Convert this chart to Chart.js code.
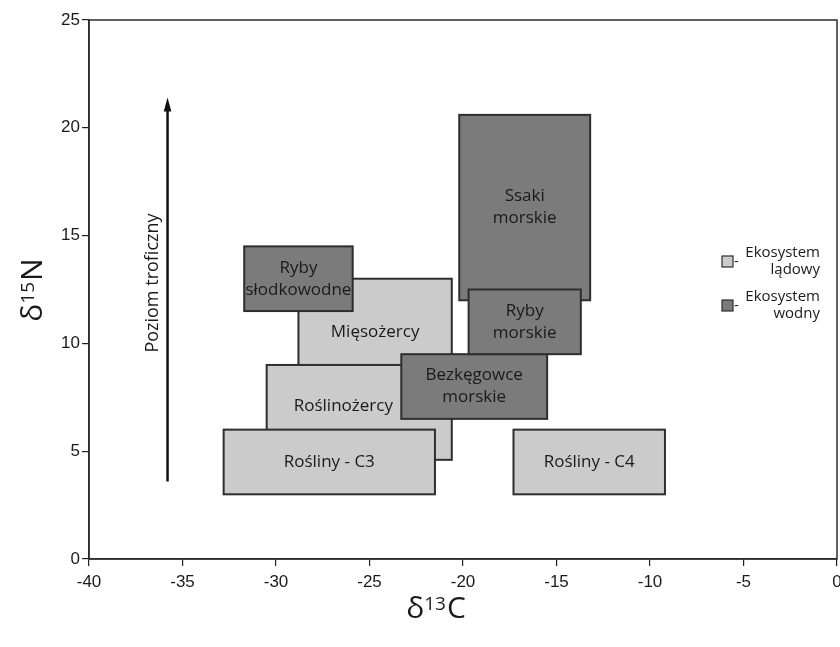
<!DOCTYPE html>
<html>
<head>
<meta charset="utf-8">
<script src="https://cdn.jsdelivr.net/npm/chart.js@4"></script>
<style>
  html, body { margin: 0; padding: 0; background: #fff; }
  #wrap { width: 840px; height: 647px; }
</style>
</head>
<body>
<div id="wrap"><canvas id="c" width="840" height="647"></canvas></div>
<script>
// zakresy grup (δ13C × δ15N), kolejność = kolejność rysowania
const groupLabels = [
  ['Mięsożercy'],
  ['Ryby', 'słodkowodne'],
  ['Roślinożercy'],
  ['Rośliny - C3'],
  ['Bezkęgowce', 'morskie'],
  ['Ssaki', 'morskie'],
  ['Ryby', 'morskie'],
  ['Rośliny - C4'],
];
const groupKind = ['land', 'water', 'land', 'land', 'water', 'water', 'water', 'land'];
const c13Min = [-28.8, -31.7, -30.5, -32.8, -23.3, -20.2, -19.7, -17.3];
const c13Max = [-20.6, -25.9, -20.6, -21.5, -15.5, -13.2, -13.7, -9.2];
const n15Min = [7.0, 11.5, 4.6, 3.0, 6.5, 12.0, 9.5, 3.0];
const n15Max = [13.0, 14.5, 9.0, 6.0, 9.5, 20.6, 12.5, 6.0];
// gdzie podpis (null = środek prostokąta)
const labelC13 = [-24.7, null, -26.4, null, null, null, null, null];
const labelN15 = [10.5, null, 7.1, null, null, null, null, null];

// strzałka "Poziom troficzny"
const arrowC13 = -35.8;
const arrowN15 = [3.6, 21.4];
const arrowText = 'Poziom troficzny';
const arrowTextAt = [-36.6, 12.8];

const xTicks = [-40, -35, -30, -25, -20, -15, -10, -5, 0];
const yTicks = [0, 5, 10, 15, 20, 25];

const legendItems = [
  { kind: 'land', lines: ['Ekosystem', 'lądowy'] },
  { kind: 'water', lines: ['Ekosystem', 'wodny'] },
];

const FILL = { land: '#cbcbcb', water: '#7b7b7b' };
const EDGE = '#2e2e2e';
const TXT = '#1a1a1a';
const BOX_FONT = '"Open Sans", sans-serif';
const TICK_FONT = '"Liberation Sans", Arial, sans-serif';

const boxesPlugin = {
  id: 'boxes',
  beforeDatasetsDraw(chart) {
    const { ctx, scales: { x, y }, chartArea: a } = chart;
    ctx.save();
    // ramka
    ctx.strokeStyle = EDGE;
    ctx.lineWidth = 1.5;
    ctx.strokeRect(a.left, a.top, a.right - a.left, a.bottom - a.top);

    groupLabels.forEach((lines, i) => {
      const x0 = x.getPixelForValue(c13Min[i]), x1 = x.getPixelForValue(c13Max[i]);
      const y0 = y.getPixelForValue(n15Max[i]), y1 = y.getPixelForValue(n15Min[i]);
      ctx.fillStyle = FILL[groupKind[i]];
      ctx.fillRect(x0, y0, x1 - x0, y1 - y0);
      ctx.strokeStyle = EDGE;
      ctx.lineWidth = 2;
      ctx.strokeRect(x0, y0, x1 - x0, y1 - y0);
    });
    groupLabels.forEach((lines, i) => {
      const cx = labelC13[i] == null ? (c13Min[i] + c13Max[i]) / 2 : labelC13[i];
      const cy = labelN15[i] == null ? (n15Min[i] + n15Max[i]) / 2 : labelN15[i];
      const px = x.getPixelForValue(cx), py = y.getPixelForValue(cy);
      ctx.fillStyle = TXT;
      ctx.font = '17px ' + BOX_FONT;
      ctx.textAlign = 'center';
      ctx.textBaseline = 'middle';
      const lh = 22;
      lines.forEach((t, k) => ctx.fillText(t, px, py + (k - (lines.length - 1) / 2) * lh));
    });

    // strzałka
    const ax = x.getPixelForValue(arrowC13);
    const ay0 = y.getPixelForValue(arrowN15[0]), ay1 = y.getPixelForValue(arrowN15[1]);
    ctx.strokeStyle = '#111';
    ctx.fillStyle = '#111';
    ctx.lineWidth = 2.5;
    ctx.beginPath();
    ctx.moveTo(ax, ay0);
    ctx.lineTo(ax, ay1 + 10);
    ctx.stroke();
    ctx.beginPath();
    ctx.moveTo(ax, ay1);
    ctx.lineTo(ax - 3.8, ay1 + 14);
    ctx.lineTo(ax + 3.8, ay1 + 14);
    ctx.closePath();
    ctx.fill();

    ctx.save();
    ctx.translate(x.getPixelForValue(arrowTextAt[0]), y.getPixelForValue(arrowTextAt[1]));
    ctx.rotate(-Math.PI / 2);
    ctx.fillStyle = TXT;
    ctx.font = '18px ' + BOX_FONT;
    ctx.textAlign = 'center';
    ctx.textBaseline = 'middle';
    ctx.fillText(arrowText, 0, 0);
    ctx.restore();

    // legenda
    legendItems.forEach((it, k) => {
      const top = 252 + k * 44;
      ctx.fillStyle = FILL[it.kind];
      ctx.fillRect(722, top + 4, 11, 11);
      ctx.strokeStyle = EDGE;
      ctx.lineWidth = 1.2;
      ctx.strokeRect(722, top + 4, 11, 11);
      ctx.fillStyle = TXT;
      ctx.font = '15px ' + BOX_FONT;
      ctx.textBaseline = 'middle';
      ctx.textAlign = 'left';
      ctx.fillText('-', 734, top + 10);
      ctx.textAlign = 'right';
      ctx.fillText(it.lines[0], 820, top + 1);
      ctx.fillText(it.lines[1], 820, top + 18);
    });
    ctx.restore();
  },
  afterDraw(chart) {
    const { ctx, chartArea: a } = chart;
    // tytuły osi δ13C / δ15N z indeksem górnym
    function iso(txt, cx, cy, rot) {
      ctx.save();
      ctx.translate(cx, cy);
      ctx.rotate(rot);
      ctx.fillStyle = TXT;
      ctx.textBaseline = 'alphabetic';
      ctx.textAlign = 'left';
      const big = '30px ' + BOX_FONT, small = '19px ' + BOX_FONT;
      ctx.font = big; const w1 = ctx.measureText('δ').width;
      ctx.font = small; const w2 = ctx.measureText(txt[1]).width;
      ctx.font = big; const w3 = ctx.measureText(txt[2]).width;
      let sx = -(w1 + w2 + w3 + 1) / 2;
      const base = 11;
      ctx.font = big; ctx.fillText('δ', sx, base); sx += w1;
      ctx.font = small; ctx.fillText(txt[1], sx, base - 8); sx += w2 + 1;
      ctx.font = big; ctx.fillText(txt[2], sx, base);
      ctx.restore();
    }
    iso(['δ', '13', 'C'], 436, 607, 0);
    iso(['δ', '15', 'N'], 31, 290, -Math.PI / 2);
  },
};

new Chart(document.getElementById('c'), {
  type: 'scatter',
  data: { datasets: [{ data: [], pointRadius: 0 }] },
  options: {
    responsive: false,
    animation: false,
    layout: { padding: { top: 20, right: 3, left: 0, bottom: 0 } },
    plugins: { legend: { display: false }, tooltip: { enabled: false } },
    scales: {
      x: {
        type: 'linear', min: xTicks[0], max: xTicks[xTicks.length - 1],
        afterBuildTicks: (s) => { s.ticks = xTicks.map((v) => ({ value: v })); },
        afterFit: (s) => { s.height = 88; s.paddingLeft = 0; s.paddingRight = 0; },
        grid: { display: true, drawOnChartArea: false, drawTicks: true, tickLength: 7, color: '#222', lineWidth: 1.2 },
        border: { display: true, color: '#222', width: 1.5 },
        ticks: { color: TXT, font: { family: TICK_FONT, size: 17 }, padding: 6, maxRotation: 0 },
      },
      y: {
        type: 'linear', min: yTicks[0], max: yTicks[yTicks.length - 1],
        afterBuildTicks: (s) => { s.ticks = yTicks.map((v) => ({ value: v })); },
        afterFit: (s) => { s.width = 89; s.paddingTop = 0; s.paddingBottom = 0; },
        grid: { display: true, drawOnChartArea: false, drawTicks: true, tickLength: 7, color: '#222', lineWidth: 1.2 },
        border: { display: true, color: '#222', width: 1.5 },
        ticks: { color: TXT, font: { family: TICK_FONT, size: 17 }, padding: 2 },
      },
    },
  },
  plugins: [boxesPlugin],
});
</script>
</body>
</html>
